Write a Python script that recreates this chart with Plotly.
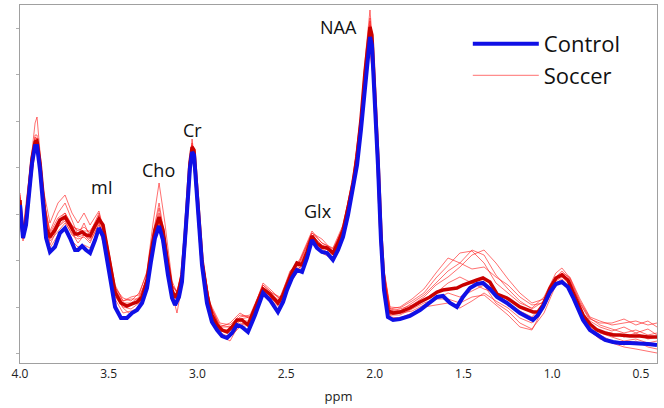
import plotly.graph_objects as go

# ---------------- data (ppm vs. signal, arbitrary units) ----------------
ppm_fine = [4.000, 3.994, 3.983, 3.966, 3.949, 3.932, 3.915, 3.904, 3.887, 3.870,
            3.853, 3.831, 3.803, 3.775, 3.746, 3.718, 3.690, 3.673, 3.650, 3.628,
            3.605, 3.577, 3.555, 3.532, 3.510, 3.487, 3.464, 3.431, 3.397, 3.369,
            3.340, 3.312, 3.284, 3.262, 3.239, 3.216, 3.194, 3.166, 3.143, 3.126,
            3.104, 3.087, 3.070, 3.053, 3.042, 3.030, 3.019, 3.008, 2.997, 2.974,
            2.946, 2.918, 2.889, 2.861, 2.833, 2.805, 2.777, 2.749, 2.715, 2.675,
            2.630, 2.591, 2.546, 2.517, 2.495, 2.467, 2.439, 2.410, 2.382, 2.354,
            2.326, 2.298, 2.269, 2.236, 2.207, 2.179, 2.151, 2.123, 2.100, 2.078,
            2.055, 2.038, 2.027, 2.016, 1.999, 1.982, 1.965, 1.948, 1.926, 1.897,
            1.858, 1.802, 1.745, 1.689, 1.649, 1.616, 1.576, 1.537, 1.503, 1.463,
            1.424, 1.390, 1.351, 1.311, 1.255, 1.182, 1.108, 1.080, 1.052, 1.012,
            0.979, 0.945, 0.911, 0.883, 0.855, 0.826, 0.787, 0.747, 0.702, 0.657,
            0.618, 0.561, 0.505, 0.460, 0.409]

control = [158, 141, 125, 138, 168, 200, 217, 217, 193, 153,
           125, 111, 116, 130, 135, 125, 113, 113, 117, 113,
           110, 123, 135, 127, 103, 78, 56, 45, 45, 50,
           53, 60, 75, 101, 125, 137, 123, 88, 65, 58,
           66, 81, 118, 166, 195, 211, 208, 178, 150, 98,
           60, 41, 33, 27, 25, 30, 38, 36, 31, 48,
           70, 63, 51, 61, 73, 85, 93, 91, 105, 123,
           115, 111, 110, 103, 113, 126, 148, 173, 198, 233,
           278, 308, 326, 318, 263, 198, 123, 73, 46, 43,
           44, 47, 53, 60, 66, 67, 60, 56, 66, 75,
           79, 80, 74, 66, 60, 50, 43, 48, 56, 71,
           79, 81, 76, 66, 55, 43, 33, 28, 23, 21,
           20, 20, 20, 19, 18]

soccer_mean = [163, 145, 128, 141, 173, 205, 221, 222, 200, 163,
               135, 126, 133, 143, 146, 138, 129, 129, 131, 128,
               127, 137, 144, 138, 116, 91, 71, 60, 57, 59,
               61, 66, 83, 110, 133, 146, 133, 98, 73, 65,
               73, 88, 123, 170, 200, 216, 213, 185, 156, 103,
               68, 48, 38, 33, 31, 36, 43, 43, 38, 55,
               74, 69, 60, 68, 78, 91, 100, 98, 111, 127,
               120, 116, 115, 110, 120, 133, 155, 180, 206, 243,
               291, 321, 336, 328, 271, 203, 128, 78, 52, 50,
               51, 55, 61, 66, 71, 73, 74, 75, 78, 81,
               83, 85, 81, 69, 65, 56, 51, 51, 58, 75,
               85, 88, 83, 71, 60, 48, 39, 33, 30, 28,
               28, 27, 27, 26, 26]

ppm_subj = [4.000, 3.983, 3.949, 3.915, 3.904, 3.870, 3.831, 3.786, 3.746, 3.707,
            3.673, 3.639, 3.605, 3.555, 3.510, 3.464, 3.419, 3.374, 3.329, 3.284,
            3.250, 3.216, 3.183, 3.143, 3.115, 3.087, 3.053, 3.030, 3.008, 2.974,
            2.929, 2.873, 2.816, 2.760, 2.703, 2.630, 2.579, 2.534, 2.478, 2.422,
            2.354, 2.298, 2.236, 2.179, 2.123, 2.078, 2.050, 2.027, 2.004, 1.982,
            1.954, 1.914, 1.858, 1.790, 1.723, 1.655, 1.587, 1.520, 1.452, 1.384,
            1.317, 1.249, 1.182, 1.114, 1.046, 0.979, 0.945, 0.900, 0.843, 0.787,
            0.731, 0.663, 0.595, 0.528, 0.460, 0.409]

soccer_1 = [170, 135, 185, 240, 246, 175, 140, 160, 168, 150, 140, 150, 138, 152, 120, 75, 65, 62, 70, 90,
            130, 160, 125, 78, 72, 92, 172, 220, 188, 105, 60, 40, 38, 48, 46, 78, 70, 66, 90, 104,
            132, 120, 115, 138, 184, 248, 305, 345, 296, 208, 100, 56, 55, 62, 70, 85, 98, 110, 112, 100,
            80, 70, 60, 55, 66, 90, 95, 85, 62, 45, 38, 34, 30, 33, 28, 30]
soccer_2 = [155, 122, 165, 212, 215, 155, 115, 128, 135, 122, 116, 118, 115, 134, 108, 64, 50, 52, 55, 78,
            116, 135, 108, 66, 60, 84, 166, 210, 178, 98, 50, 30, 26, 36, 38, 70, 62, 55, 80, 94,
            122, 110, 104, 128, 176, 238, 296, 326, 284, 198, 90, 46, 45, 50, 56, 58, 60, 55, 62, 70,
            62, 55, 45, 40, 55, 80, 84, 74, 50, 32, 24, 20, 16, 14, 12, 10]
soccer_3 = [168, 132, 178, 228, 228, 168, 130, 145, 150, 138, 132, 136, 130, 150, 122, 78, 62, 66, 68, 92,
            140, 180, 140, 82, 70, 90, 175, 224, 192, 108, 58, 36, 40, 50, 44, 80, 72, 64, 92, 102,
            130, 124, 112, 136, 186, 250, 312, 353, 300, 210, 98, 54, 52, 60, 68, 80, 92, 100, 113, 108,
            88, 74, 62, 54, 62, 86, 92, 84, 60, 44, 40, 40, 44, 38, 42, 36]
soccer_4 = [160, 126, 170, 218, 220, 160, 118, 136, 142, 128, 124, 126, 120, 140, 112, 68, 55, 48, 58, 80,
            118, 140, 115, 70, 50, 78, 165, 212, 182, 100, 52, 28, 22, 40, 38, 72, 64, 58, 84, 96,
            124, 112, 106, 130, 178, 240, 295, 310, 280, 200, 92, 48, 50, 52, 58, 64, 70, 66, 72, 78,
            60, 52, 40, 34, 50, 78, 82, 76, 54, 36, 28, 22, 18, 22, 16, 14]
soccer_5 = [165, 130, 176, 224, 225, 166, 128, 142, 150, 136, 134, 132, 132, 146, 118, 74, 60, 60, 66, 84,
            124, 150, 120, 76, 72, 90, 172, 218, 186, 104, 58, 38, 36, 44, 46, 76, 68, 62, 88, 100,
            128, 118, 112, 134, 182, 245, 302, 338, 292, 205, 96, 52, 54, 58, 66, 78, 86, 96, 108, 113,
            100, 84, 70, 60, 64, 84, 90, 82, 60, 42, 36, 32, 36, 30, 34, 28]
soccer_6 = [158, 124, 168, 214, 218, 158, 122, 132, 140, 130, 120, 128, 122, 138, 110, 66, 56, 54, 60, 78,
            116, 138, 110, 64, 62, 86, 168, 214, 182, 100, 54, 32, 30, 38, 40, 70, 64, 60, 84, 96,
            124, 114, 108, 130, 178, 240, 298, 332, 288, 200, 92, 48, 48, 54, 60, 64, 64, 60, 66, 68,
            58, 48, 36, 33, 56, 82, 86, 78, 54, 38, 30, 26, 22, 24, 20, 22]
soccer_7 = [166, 131, 175, 226, 224, 165, 132, 150, 160, 142, 128, 140, 126, 148, 120, 76, 62, 64, 64, 86,
            128, 155, 124, 78, 70, 88, 170, 218, 188, 106, 58, 36, 36, 46, 48, 78, 70, 64, 88, 102,
            130, 120, 114, 135, 182, 246, 304, 342, 294, 206, 98, 54, 56, 64, 74, 90, 105, 100, 94, 96,
            86, 78, 66, 58, 60, 82, 90, 86, 64, 46, 42, 38, 40, 42, 38, 40]
soccer_8 = [161, 127, 171, 220, 221, 161, 124, 136, 144, 132, 126, 128, 124, 142, 114, 70, 58, 58, 62, 82,
            120, 144, 116, 72, 68, 88, 170, 215, 184, 102, 55, 34, 33, 42, 42, 74, 66, 60, 86, 98,
            126, 116, 110, 132, 180, 242, 300, 334, 289, 202, 94, 50, 50, 56, 62, 70, 80, 86, 80, 74,
            70, 60, 52, 46, 60, 86, 90, 80, 56, 38, 32, 30, 26, 30, 24, 26]

subjects = [soccer_1, soccer_2, soccer_3, soccer_4, soccer_5, soccer_6, soccer_7, soccer_8]

x_tick_vals = [4.0, 3.5, 3.0, 2.5, 2.0, 1.5, 1.0, 0.5]
x_tick_text = ["4.0", "3.5", "3.0", "2.5", "2.0", "1.5", "1.0", "0.5"]

peak_names = ["NAA", "Cr", "Cho", "mI", "Glx"]
peak_ppm = [2.202, 3.030, 3.222, 3.538, 2.320]
peak_label_y = [336, 233, 193, 176, 152]

# ---------------- figure ----------------
FONT = "Open Sans, Segoe UI, sans-serif"
fig = go.Figure()

for i, s in enumerate(subjects):
    fig.add_trace(go.Scatter(
        x=ppm_subj, y=s, mode="lines", name="Soccer",
        line=dict(color="rgba(255,25,25,0.62)", width=1),
        showlegend=(i == 0), legendrank=2, hoverinfo="skip"))

fig.add_trace(go.Scatter(
    x=ppm_fine, y=soccer_mean, mode="lines", name="Soccer mean",
    line=dict(color="#c80000", width=3.5), showlegend=False))

fig.add_trace(go.Scatter(
    x=ppm_fine, y=control, mode="lines", name="Control",
    line=dict(color="#1010e6", width=4), legendrank=1))

for name, px, py in zip(peak_names, peak_ppm, peak_label_y):
    fig.add_annotation(x=px, y=py, text=name, showarrow=False,
                       font=dict(family=FONT, size=18, color="#111"))

fig.update_layout(
    width=664, height=408,
    margin=dict(l=20, r=7, t=5, b=45, autoexpand=False),
    paper_bgcolor="white", plot_bgcolor="white",
    font=dict(family=FONT, color="#222"),
    legend=dict(x=0.703, y=0.95, xanchor="left", yanchor="top",
                font=dict(family=FONT, size=22, color="#111"),
                bgcolor="rgba(0,0,0,0)", itemwidth=66, tracegroupgap=0),
    xaxis=dict(range=[4.0, 0.409], tickvals=x_tick_vals, ticktext=x_tick_text,
               automargin=False,
               showgrid=False, zeroline=False, showline=True, mirror=True,
               linecolor="#a0a0a0", linewidth=1, ticks="",
               tickfont=dict(family=FONT, size=12, color="#222"),
               title=dict(text="ppm", font=dict(family=FONT, size=13, color="#222"),
                          standoff=10)),
    yaxis=dict(range=[0, 358], tick0=9.5, dtick=46.5, showticklabels=False,
               automargin=False,
               showgrid=False, zeroline=False, showline=True, mirror=True,
               linecolor="#a0a0a0", linewidth=1, ticks="outside", ticklen=3,
               tickcolor="#b0b0b0"),
)

fig.write_html("out.html",
               config={"displayModeBar": False},
               post_script="document.body.style.margin='0';document.body.style.overflow='hidden';")
